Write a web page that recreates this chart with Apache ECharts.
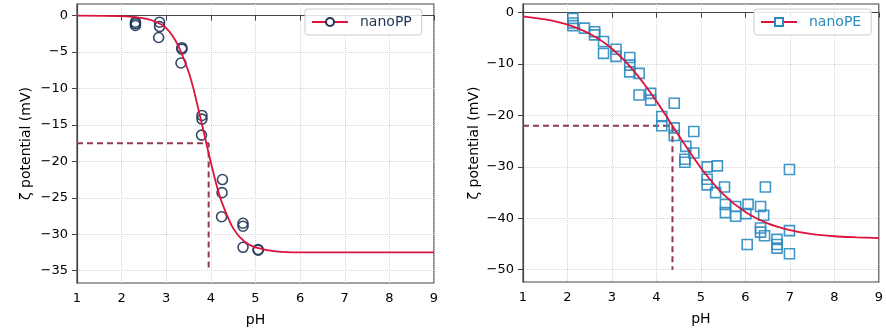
<!DOCTYPE html>
<html>
<head>
<meta charset="utf-8">
<script src="https://cdn.jsdelivr.net/npm/echarts@6/dist/echarts.min.js"></script>
<style>
  html, body { margin: 0; padding: 0; background: #fff; }
  #chart { width: 886px; height: 335px; }
</style>
</head>
<body>
<div id="chart"></div>
<script>
// nanoPP measured points [pH, zeta]
var ppPoints = [
    [2.31, -0.9], [2.31, -1.1], [2.31, -1.35],
    [2.85, -0.9], [2.85, -1.5], [2.83, -3.0],
    [3.35, -4.4], [3.35, -4.6], [3.33, -6.5],
    [3.80, -13.7], [3.80, -14.2], [3.79, -16.4],
    [4.26, -22.5], [4.25, -24.3], [4.24, -27.6],
    [4.72, -28.5], [4.72, -28.9], [4.72, -31.8],
    [5.06, -32.1], [5.06, -32.2]
];
// nanoPP fitted curve
var ppCurveX = [1, 2, 2.5, 2.75, 3, 3.25, 3.5, 3.625, 3.75, 3.875, 4, 4.125, 4.25, 4.5, 4.75, 5, 5.5, 6, 7, 8, 9];
var ppCurveY = [0, -0.07, -0.36, -0.8, -1.7, -3.9, -7.7, -10.4, -13.6, -16.9, -20.2, -23.2, -25.7, -29.2, -31.0, -31.8, -32.4, -32.5, -32.5, -32.5, -32.5];
var ppMark = [3.95, -17.5];

// nanoPE measured points [pH, zeta]
var pePoints = [
    [2.12, -1.1], [2.12, -2.0], [2.12, -2.5],
    [2.38, -3.0], [2.61, -3.7], [2.61, -4.3],
    [2.81, -5.6], [2.81, -7.9], [3.09, -7.1], [3.09, -8.5],
    [3.40, -8.7], [3.40, -10.2], [3.40, -11.5], [3.61, -11.8],
    [3.61, -16.0], [3.87, -15.7], [3.87, -17.0], [4.40, -17.6],
    [4.12, -20.2], [4.12, -22.0], [4.40, -22.4], [4.40, -23.9],
    [4.84, -23.1], [4.66, -26.0], [4.84, -27.3], [4.64, -28.5], [4.64, -29.1],
    [5.14, -30.0], [5.37, -29.8], [5.14, -32.4], [5.14, -33.5],
    [5.33, -35.0], [5.53, -33.9], [5.55, -37.3], [5.55, -38.9],
    [5.78, -37.7], [5.78, -39.6], [6.06, -37.3], [6.01, -39.1], [6.04, -45.1],
    [6.34, -37.7], [6.41, -39.4], [6.45, -33.9], [6.34, -41.9], [6.34, -42.7],
    [6.43, -43.4], [6.71, -44.1], [6.71, -45.1], [6.71, -45.8],
    [6.99, -30.5], [6.99, -42.4], [6.99, -46.9]
];
var peCurveX = [1, 1.5, 2, 2.5, 3, 3.5, 4, 4.5, 5, 5.5, 6, 6.5, 7, 7.5, 8, 8.5, 9];
var peCurveY = [-0.7, -1.3, -2.3, -4.1, -7.0, -11.4, -17.2, -23.9, -30.2, -35.3, -38.8, -41.0, -42.3, -43.1, -43.5, -43.7, -43.85];
var peMark = [4.36, -22];

var ppYTicks = [0, -5, -10, -15, -20, -25, -30, -35];
var peYTicks = [0, -10, -20, -30, -40, -50];

var font = 'DejaVu Sans';
var curveColor = '#dc143c';
var dashColor = '#8e3a4f';
var ppColor = '#1e3557';
var peColor = '#2b8bc0';
var spine = '#444';

function pairs(xs, ys) {
    return xs.map(function (x, i) { return [x, ys[i]]; });
}
function minus(v) {
    return String(v).replace('-', '\u2212');
}

function xAxis(idx) {
    return {
        type: 'value', gridIndex: idx, min: 1, max: 9, interval: 1,
        name: 'pH', nameLocation: 'middle', nameGap: 30,
        nameTextStyle: { fontFamily: font, fontSize: 14, color: '#000' },
        axisLine: { show: true, lineStyle: { color: spine, width: 1.2 } },
        axisTick: { show: true, length: 5, lineStyle: { color: spine } },
        axisLabel: { fontFamily: font, fontSize: 13, color: '#000', margin: 9 },
        splitLine: { show: true, lineStyle: { color: '#d6d6d6', type: 'dotted', width: 1 } }
    };
}
function yAxis(idx, min, max, split, ticks, gap) {
    return {
        type: 'value', gridIndex: idx, min: min, max: max, splitNumber: split,
        name: '\u03b6 potential (mV)', nameLocation: 'middle', nameGap: gap,
        nameTextStyle: { fontFamily: font, fontSize: 14, color: '#000' },
        axisLine: { show: true, lineStyle: { color: spine, width: 1.2 } },
        axisTick: { show: true, length: 5, lineStyle: { color: spine }, customValues: ticks },
        axisLabel: {
            fontFamily: font, fontSize: 13, color: '#000', margin: 9,
            customValues: ticks,
            formatter: function (v) { return minus(v); }
        },
        splitLine: { show: true, lineStyle: { color: '#d6d6d6', type: 'dotted', width: 1 } }
    };
}
function legend(left, name, color) {
    return {
        left: left, top: 9, orient: 'vertical',
        data: [name],
        itemWidth: 36, itemHeight: 10,
        padding: [6, 10, 6, 6],
        borderColor: '#cccccc', borderWidth: 1, borderRadius: 3,
        backgroundColor: 'rgba(255,255,255,0.85)',
        textStyle: { fontFamily: font, fontSize: 14, color: color, padding: [0, 0, 0, 7] }
    };
}
function dashed(idx, mark, yBottom) {
    return {
        type: 'line', xAxisIndex: idx, yAxisIndex: idx, name: 'guide' + idx,
        data: [[1, mark[1]], [mark[0], mark[1]], [mark[0], yBottom]],
        showSymbol: false, symbol: 'none', silent: true, z: 3,
        lineStyle: { color: dashColor, width: 2, type: [6, 4] }
    };
}

var chart = echarts.init(document.getElementById('chart'), null, { renderer: 'canvas' });
chart.setOption({
    animation: false,
    backgroundColor: '#fff',
    grid: [
        { left: 77, top: 4, width: 357, height: 279, show: true, borderColor: spine, borderWidth: 1.2 },
        { left: 523, top: 4, width: 358, height: 278, show: true, borderColor: spine, borderWidth: 1.2 }
    ],
    legend: [
        legend(305, 'nanoPP', ppColor),
        legend(754, 'nanoPE', peColor)
    ],
    xAxis: [xAxis(0), xAxis(1)],
    yAxis: [
        yAxis(0, -36.7, 1.6, 8, ppYTicks, 44),
        yAxis(1, -52.4, 1.7, 5, peYTicks, 42)
    ],
    series: [
        dashed(0, ppMark, -35),
        dashed(1, peMark, -50),
        {
            type: 'scatter', name: 'ppPoints', xAxisIndex: 0, yAxisIndex: 0,
            data: ppPoints, symbol: 'circle', symbolSize: 10, z: 4,
            itemStyle: { color: 'rgba(255,255,255,0)', borderColor: ppColor, borderWidth: 1.6, opacity: 0.9 }
        },
        {
            type: 'scatter', name: 'pePoints', xAxisIndex: 1, yAxisIndex: 1,
            data: pePoints, symbol: 'rect', symbolSize: 10, z: 4,
            itemStyle: { color: 'rgba(255,255,255,0)', borderColor: peColor, borderWidth: 1.6, opacity: 0.9 }
        },
        {
            type: 'line', name: 'nanoPP', xAxisIndex: 0, yAxisIndex: 0,
            data: pairs(ppCurveX, ppCurveY), smooth: 0.3, showSymbol: false,
            symbol: 'circle', symbolSize: 9, z: 5,
            lineStyle: { color: curveColor, width: 1.8 },
            itemStyle: { color: '#fff', borderColor: ppColor, borderWidth: 1.6 }
        },
        {
            type: 'line', name: 'nanoPE', xAxisIndex: 1, yAxisIndex: 1,
            data: pairs(peCurveX, peCurveY), smooth: 0.3, showSymbol: false,
            symbol: 'rect', symbolSize: 9, z: 5,
            lineStyle: { color: curveColor, width: 1.8 },
            itemStyle: { color: '#fff', borderColor: peColor, borderWidth: 1.6 }
        }
    ]
});
</script>
</body>
</html>
